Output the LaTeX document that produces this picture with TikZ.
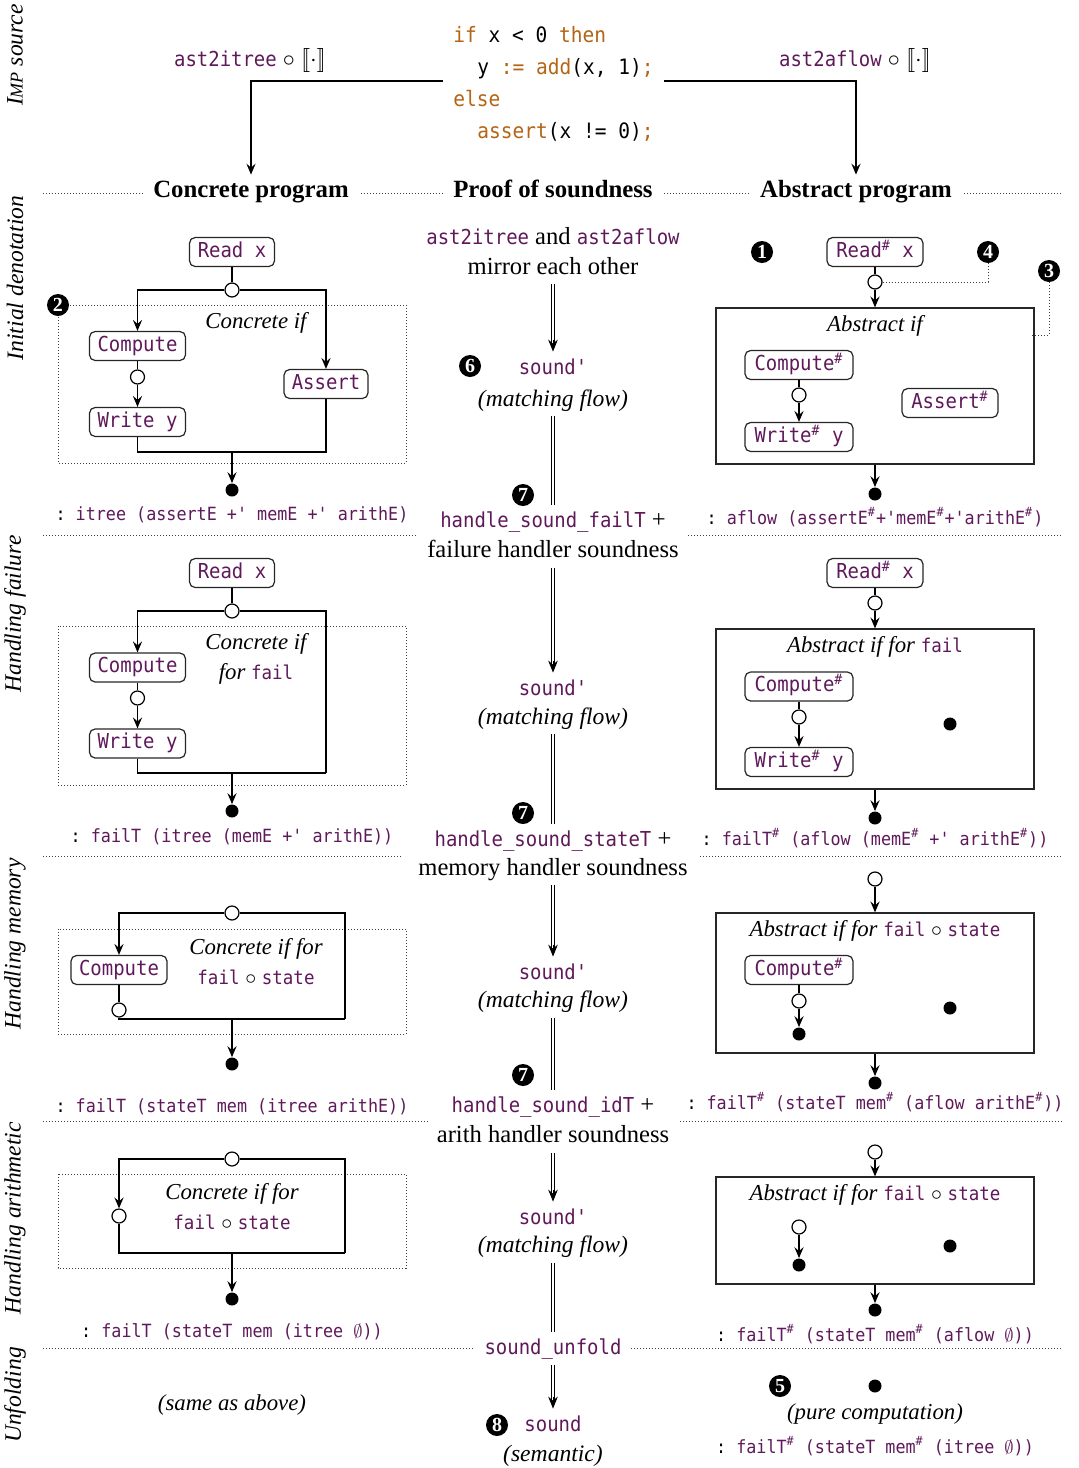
\documentclass[tikz,border=0pt]{standalone}
\usepackage{fontspec}
\setmainfont{Liberation Serif}
\setmonofont{DejaVu Sans Mono}[FakeStretch=0.92]
\usetikzlibrary{arrows.meta}
\definecolor{purp}{RGB}{95,25,90}
\definecolor{kwc}{RGB}{180,100,20}
\newcommand\tmB[1]{{\fontsize{10.3}{15}\selectfont\ttfamily\upshape\color{purp}#1}}
\newcommand\tmL[1]{{\fontsize{9.5}{15}\selectfont\ttfamily\upshape\color{purp}#1}}
\newcommand\shq{\textsuperscript{\#}}
\newcommand\emp{$\emptyset$}
\begin{document}
\begin{tikzpicture}[x=0.5pt,y=-0.5pt,
  ln/.style={line width=0.6pt},
  arr/.style={line width=0.6pt,-{Stealth[length=5.5pt,width=4.6pt,inset=2pt]}},
  fbox/.style={draw=black!85,line width=0.6pt,rounded corners=2.8pt,minimum height=14.5pt,inner xsep=0pt,inner ysep=0pt,text height=7.4pt,text depth=2pt,font=\fontsize{10.3}{12}\selectfont\ttfamily,text=purp},
  ocirc/.style={circle,draw,fill=white,line width=0.6pt,minimum size=7pt,inner sep=0pt},
  fdot/.style={circle,fill=black,minimum size=6.5pt,inner sep=0pt},
  abox/.style={draw=black!85,line width=0.6pt,minimum width=159pt,inner sep=0pt},
  badge/.style={circle,fill=black,text=white,minimum size=11pt,inner sep=0pt,font=\bfseries\fontsize{10}{10}\selectfont},
  sepln/.style={line width=0.5pt,black!75,dash pattern=on 0.5pt off 1pt},
  typ/.style={font=\fontsize{9.1}{11}\selectfont\ttfamily,text=purp,inner sep=0pt},
  itl/.style={font=\fontsize{11.4}{15}\selectfont\itshape,align=center,inner sep=0pt},
  mtxt/.style={font=\fontsize{12.3}{15}\selectfont,text height=9pt,text depth=3pt,inner xsep=0pt,inner ysep=2pt},
  mmono/.style={font=\fontsize{10.3}{12}\selectfont\ttfamily,text=purp,text height=9pt,text depth=3pt,inner xsep=0pt,inner ysep=2pt},
  mital/.style={font=\fontsize{11.8}{15}\selectfont\itshape,text height=9pt,text depth=3pt,inner xsep=0pt,inner ysep=2pt},
  dshaft/.style={line width=0.5pt,double,double distance=1.2pt,shorten >=4pt},
  dshaftn/.style={line width=0.5pt,double,double distance=1.2pt},
  dtip/.style={line width=0.5pt,-{Stealth[length=6pt,width=4.8pt,inset=2pt]}},
  hdr/.style={font=\bfseries\fontsize{12.4}{15}\selectfont,fill=white,inner xsep=5pt,inner ysep=2pt,text height=9pt,text depth=3pt},
  rotl/.style={rotate=90,font=\fontsize{11.8}{14}\selectfont\itshape,inner sep=0pt},
  codel/.style={font=\fontsize{10.6}{12}\selectfont\ttfamily,anchor=west,inner sep=0pt,text height=8pt,text depth=2.5pt}
]
\useasboundingbox (0,0) rectangle (1079,1468);

% ---------- row labels
\node[rotl] (r0) at (15,55) {I{\fontsize{9}{10}\selectfont MP} source};
\node[rotl] (r1) at (15,278) {Initial denotation};
\node[rotl] (r2) at (15,614) {Handling failure};
\node[rotl] (r3) at (15,944) {Handling memory};
\node[rotl] (r4) at (15,1218) {Handling arithmetic};
\node[rotl] (r5) at (15,1395) {Unfolding};

% ---------- separators
\draw[sepln] (43,193) -- (1063,193);
\draw[sepln] (43,535) -- (418,535); \draw[sepln] (688,535) -- (1063,535);
\draw[sepln] (43,856) -- (403,856); \draw[sepln] (700,856) -- (1063,856);
\draw[sepln] (43,1121) -- (428,1121); \draw[sepln] (680,1121) -- (1063,1121);
\draw[sepln] (43,1348) -- (475,1348); \draw[sepln] (631,1348) -- (1063,1348);

% ---------- top source
\node[codel] (c1) at (453,37) {\textcolor{kwc}{if} x < 0 \textcolor{kwc}{then}};
\node[codel] (c2) at (477,69) {y \textcolor{kwc}{:=} \textcolor{kwc}{add}(x, 1)\textcolor{kwc}{;}};
\node[codel] (c3) at (453,101) {\textcolor{kwc}{else}};
\node[codel] (c4) at (477,133) {\textcolor{kwc}{assert}(x != 0)\textcolor{kwc}{;}};
\node[mtxt] (lL) at (250,60) {\tmB{ast2itree} $\circ$ $[\![\cdot]\!]$};
\node[mtxt] (lR) at (855,60) {\tmB{ast2aflow} $\circ$ $[\![\cdot]\!]$};

\node[hdr] (hC) at (251,191) {Concrete program};
\node[hdr] (hP) at (553,191) {Proof of soundness};
\node[hdr] (hA) at (856,191) {Abstract program};
\coordinate (sL) at (443,81);
\coordinate (sR) at (664,81);
\draw[arr] (sL) -| (hC.north);
\draw[arr] (sR) -| (hA.north);

% ---------- left 1
\draw[sepln] (58,305) rectangle (406,463);
\node[fbox,minimum width=42.5pt] (rx1) at (232,252) {Read x};
\node[ocirc] (f1) at (232,290) {};
\node[fbox,minimum width=48pt] (cp1) at (137.5,346) {Compute};
\node[ocirc] (o1) at (137.5,377) {};
\node[fbox,minimum width=48pt] (wy1) at (137.5,422) {Write y};
\node[fbox,minimum width=42pt] (as1) at (326,384) {Assert};
\coordinate (j1) at (232,452);
\node[fdot] (d1) at (232,490) {};
\draw[ln] (rx1) -- (f1);
\draw[arr] (f1.west) -| (cp1.north);
\draw[arr] (f1.east) -| (as1.north);
\draw[ln] (cp1) -- (o1);
\draw[arr] (o1) -- (wy1);
\draw[ln] (wy1.south) |- (j1) -| (as1.south);
\draw[arr] (j1) -- (d1);
\node[badge] (b2) at (58,305) {2};
\node[itl] (lc1) at (256,323) {Concrete if};
\node[typ] (t1) at (232,515) {{\color{black}:} itree (assertE +' memE +' arithE)};

% ---------- right 1
\node[badge] (b1) at (762,252) {1};
\node[fbox,minimum width=48pt] (ra1) at (875,252) {Read\shq{} x};
\node[ocirc] (oa1) at (875,282) {};
\node[abox,minimum height=78pt] (A1) at (875,386) {};
\node[badge] (b4) at (988,252) {4};
\node[badge] (b3) at (1049,271) {3};
\coordinate (b3e) at (1030,335);
\draw[ln] (ra1) -- (oa1);
\draw[arr] (oa1) -- (A1.north);
\draw[sepln] (oa1.east) -| (b4.south);
\draw[sepln] (b3.south) |- (b3e);
\node[itl] (la1) at (875,326) {Abstract if};
\node[fbox,minimum width=54pt] (cpa1) at (799,365) {Compute\shq};
\node[ocirc] (oca1) at (799,395) {};
\node[fbox,minimum width=54pt] (wya1) at (799,437) {Write\shq{} y};
\node[fbox,minimum width=48pt] (asa1) at (950,403) {Assert\shq};
\draw[ln] (cpa1) -- (oca1);
\draw[arr] (oca1) -- (wya1);
\node[fdot] (da1) at (875,494) {};
\draw[arr] (A1.south) -- (da1);
\node[typ] (ta1) at (875,517) {{\color{black}:} aflow (assertE\shq+'memE\shq+'arithE\shq)};

% ---------- left 2
\draw[sepln] (58,626) rectangle (406,785);
\node[fbox,minimum width=42.5pt] (rx2) at (232,573) {Read x};
\node[ocirc] (f2) at (232,611) {};
\node[fbox,minimum width=48pt] (cp2) at (137.5,667.5) {Compute};
\node[ocirc] (o2) at (137.5,698) {};
\node[fbox,minimum width=48pt] (wy2) at (137.5,743.5) {Write y};
\coordinate (j2) at (232,773);
\coordinate (j2r) at (326,773);
\node[fdot] (d2) at (232,811) {};
\draw[ln] (rx2) -- (f2);
\draw[arr] (f2.west) -| (cp2.north);
\draw[ln] (f2.east) -| (j2r);
\draw[ln] (cp2) -- (o2);
\draw[arr] (o2) -- (wy2);
\draw[ln] (wy2.south) |- (j2r);
\draw[arr] (j2) -- (d2);
\node[itl] (lc2) at (256,659) {Concrete if\\for \tmL{fail}};
\node[typ] (t2) at (232,837) {{\color{black}:} failT (itree (memE +' arithE))};

% ---------- right 2
\node[fbox,minimum width=48pt] (ra2) at (875,573) {Read\shq{} x};
\node[ocirc] (oa2) at (875,603) {};
\node[abox,minimum height=80pt] (A2) at (875,709) {};
\draw[ln] (ra2) -- (oa2);
\draw[arr] (oa2) -- (A2.north);
\node[itl] (la2) at (875,647) {Abstract if for \tmL{fail}};
\node[fbox,minimum width=54pt] (cpa2) at (799,686.5) {Compute\shq};
\node[ocirc] (oca2) at (799,717) {};
\node[fbox,minimum width=54pt] (wya2) at (799,762) {Write\shq{} y};
\draw[ln] (cpa2) -- (oca2);
\draw[arr] (oca2) -- (wya2);
\node[fdot] (xa2) at (950,724) {};
\node[fdot] (da2) at (875,818) {};
\draw[arr] (A2.south) -- (da2);
\node[typ] (ta2) at (875,838) {{\color{black}:} failT\shq{} (aflow (memE\shq{} +' arithE\shq))};

% ---------- left 3
\draw[sepln] (58,929) rectangle (406,1034);
\node[ocirc] (f3) at (232,913) {};
\node[fbox,minimum width=48pt] (cp3) at (119,970) {Compute};
\node[ocirc] (o3) at (119,1010) {};
\coordinate (j3) at (232,1019);
\coordinate (j3r) at (345,1019);
\node[fdot] (d3) at (232,1064) {};
\draw[arr] (f3.west) -| (cp3.north);
\draw[ln] (f3.east) -| (j3r);
\draw[ln] (cp3) -- (o3);
\draw[ln] (o3.south) |- (j3r);
\draw[arr] (j3) -- (d3);
\node[itl] (lc3) at (256,962) {Concrete if for\\\tmL{fail} $\circ$ \tmL{state}};
\node[typ] (t3) at (232,1107) {{\color{black}:} failT (stateT mem (itree arithE))};

% ---------- right 3
\node[ocirc] (oa3) at (875,879) {};
\node[abox,minimum height=70pt] (A3) at (875,983) {};
\draw[arr] (oa3) -- (A3.north);
\node[itl] (la3) at (875,931) {Abstract if for \tmL{fail} $\circ$ \tmL{state}};
\node[fbox,minimum width=54pt] (cpa3) at (799,970) {Compute\shq};
\node[ocirc] (oca3) at (799,1001) {};
\node[fdot] (dd3) at (799,1034) {};
\draw[ln] (cpa3) -- (oca3);
\draw[arr] (oca3) -- (dd3);
\node[fdot] (xa3) at (950,1008) {};
\node[fdot] (da3) at (875,1083) {};
\draw[arr] (A3.south) -- (da3);
\node[typ] (ta3) at (875,1102) {{\color{black}:} failT\shq{} (stateT mem\shq{} (aflow arithE\shq))};

% ---------- left 4
\draw[sepln] (58,1174) rectangle (406,1268);
\node[ocirc] (f4) at (232,1159) {};
\node[ocirc] (o4) at (119,1216) {};
\coordinate (j4) at (232,1253);
\coordinate (j4r) at (345,1253);
\node[fdot] (d4) at (232,1299) {};
\draw[arr] (f4.west) -| (o4.north);
\draw[ln] (f4.east) -| (j4r);
\draw[ln] (o4.south) |- (j4r);
\draw[arr] (j4) -- (d4);
\node[itl] (lc4) at (232,1207) {Concrete if for\\\tmL{fail} $\circ$ \tmL{state}};
\node[typ] (t4) at (232,1332) {{\color{black}:} failT (stateT mem (itree \emp))};
\node[itl] (same) at (232,1405) {(same as above)};

% ---------- right 4
\node[ocirc] (oa4) at (875,1152) {};
\node[abox,minimum height=53.5pt] (A4) at (875,1230.5) {};
\draw[arr] (oa4) -- (A4.north);
\node[itl] (la4) at (875,1195) {Abstract if for \tmL{fail} $\circ$ \tmL{state}};
\node[ocirc] (oca4) at (799,1227) {};
\node[fdot] (dd4) at (799,1265) {};
\draw[arr] (oca4) -- (dd4);
\node[fdot] (xa4) at (950,1246) {};
\node[fdot] (da4) at (875,1310) {};
\draw[arr] (A4.south) -- (da4);
\node[typ] (ta4) at (875,1334) {{\color{black}:} failT\shq{} (stateT mem\shq{} (aflow \emp))};

% ---------- right 5
\node[badge] (b5) at (780,1386) {5};
\node[fdot] (da5) at (875,1386) {};
\node[itl] (pc) at (875,1414) {(pure computation)};
\node[typ] (ta5) at (875,1446) {{\color{black}:} failT\shq{} (stateT mem\shq{} (itree \emp))};

% ---------- middle column
\node[mtxt] (m0) at (553,238) {\tmB{ast2itree} and \tmB{ast2aflow}};
\node[mtxt] (m0b) at (553,268) {mirror each other};
\node[mmono] (m1) at (553,368) {sound'};
\node[mital] (m1b) at (553,400) {(matching flow)};
\node[badge] (b6) at (470,366) {6};
\node[mtxt] (m2) at (553,521.7) {\tmB{handle\_sound\_failT} +};
\node[mtxt] (m2b) at (553,551.7) {failure handler soundness};
\node[badge] (b7a) at (523,495) {7};
\node[mmono] (m3) at (553,689) {sound'};
\node[mital] (m3b) at (553,718) {(matching flow)};
\node[mtxt] (m4) at (553,840) {\tmB{handle\_sound\_stateT} +};
\node[mtxt] (m4b) at (553,869) {memory handler soundness};
\node[badge] (b7b) at (523,813) {7};
\node[mmono] (m5) at (553,973) {sound'};
\node[mital] (m5b) at (553,1001.7) {(matching flow)};
\node[mtxt] (m6) at (553,1106.7) {\tmB{handle\_sound\_idT} +};
\node[mtxt] (m6b) at (553,1136.7) {arith handler soundness};
\node[badge] (b7c) at (523,1075) {7};
\node[mmono] (m7) at (553,1218) {sound'};
\node[mital] (m7b) at (553,1246.7) {(matching flow)};
\node[mmono] (m8) at (553,1348.3) {sound\_unfold};
\node[mmono] (m9) at (553,1425) {sound};
\node[mital] (m9b) at (553,1455) {(semantic)};
\node[badge] (b8) at (497,1425) {8};

\draw[dshaft] (m0b.south) -- (m1.north);
\draw[dtip] ([yshift=6pt]m1.north) -- (m1.north);
\draw[dshaftn] (m1b.south) -- (m2.north);
\draw[dshaft] (m2b.south) -- (m3.north);
\draw[dtip] ([yshift=6pt]m3.north) -- (m3.north);
\draw[dshaftn] (m3b.south) -- (m4.north);
\draw[dshaft] (m4b.south) -- (m5.north);
\draw[dtip] ([yshift=6pt]m5.north) -- (m5.north);
\draw[dshaftn] (m5b.south) -- (m6.north);
\draw[dshaft] (m6b.south) -- (m7.north);
\draw[dtip] ([yshift=6pt]m7.north) -- (m7.north);
\draw[dshaftn] (m7b.south) -- (m8.north);
\draw[dshaft] (m8.south) -- (m9.north);
\draw[dtip] ([yshift=6pt]m9.north) -- (m9.north);
\end{tikzpicture}
\end{document}
